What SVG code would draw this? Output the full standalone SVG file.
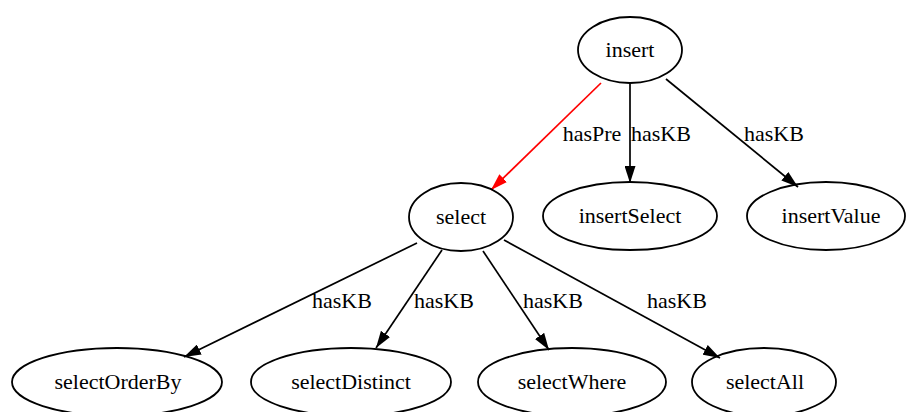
<svg xmlns="http://www.w3.org/2000/svg" width="906" height="412" viewBox="0 0 906 412">
<style>
.node ellipse{fill:none;stroke:#000;stroke-width:1.8}
.node text,.lbl{font-family:"Liberation Serif","Times New Roman",serif;font-size:22px;fill:#000;text-anchor:middle}
.edge{fill:none;stroke:#000;stroke-width:1.7}
.red{stroke:#ff0000}
</style>
<defs>
<marker id="ah" viewBox="0 0 17 11" refX="17" refY="5.5" markerWidth="17" markerHeight="11" markerUnits="userSpaceOnUse" orient="auto"><path d="M0,0 L17,5.5 L0,11 z" fill="#000"/></marker>
<marker id="ahr" viewBox="0 0 17 11" refX="17" refY="5.5" markerWidth="17" markerHeight="11" markerUnits="userSpaceOnUse" orient="auto"><path d="M0,0 L17,5.5 L0,11 z" fill="#ff0000"/></marker>
</defs>
<rect width="906" height="412" fill="#fff"/>
<g id="edges">
<path class="edge red" d="M601,83 L491,190" marker-end="url(#ahr)"/>
<path class="edge" d="M630,84 L630,183" marker-end="url(#ah)"/>
<path class="edge" d="M666,79 L798,187" marker-end="url(#ah)"/>
<path class="edge" d="M417,243 L184,357" marker-end="url(#ah)"/>
<path class="edge" d="M442,250 L376,348" marker-end="url(#ah)"/>
<path class="edge" d="M483,251 L549,350" marker-end="url(#ah)"/>
<path class="edge" d="M504,240 L720,358" marker-end="url(#ah)"/>
<text class="lbl" x="592" y="141">hasPre</text>
<text class="lbl" x="661" y="141">hasKB</text>
<text class="lbl" x="774" y="141">hasKB</text>
<text class="lbl" x="342" y="308">hasKB</text>
<text class="lbl" x="444" y="308">hasKB</text>
<text class="lbl" x="553" y="308">hasKB</text>
<text class="lbl" x="677" y="308">hasKB</text>
</g>
<g id="insert" class="node"><ellipse cx="630" cy="50" rx="52" ry="33"/><text x="630" y="57">insert</text></g>
<g id="select" class="node"><ellipse cx="461" cy="217" rx="52" ry="34"/><text x="461" y="224">select</text></g>
<g id="insertSelect" class="node"><ellipse cx="630" cy="216" rx="87" ry="34"/><text x="630" y="223">insertSelect</text></g>
<g id="insertValue" class="node"><ellipse cx="826" cy="216" rx="79" ry="34"/><text x="831" y="223">insertValue</text></g>
<g id="selectOrderBy" class="node"><ellipse cx="117" cy="382" rx="105" ry="34"/><text x="118" y="389">selectOrderBy</text></g>
<g id="selectDistinct" class="node"><ellipse cx="351" cy="382" rx="100" ry="34"/><text x="351" y="389">selectDistinct</text></g>
<g id="selectWhere" class="node"><ellipse cx="572" cy="382" rx="94" ry="34"/><text x="572" y="389">selectWhere</text></g>
<g id="selectAll" class="node"><ellipse cx="764" cy="382" rx="72" ry="34"/><text x="765" y="389">selectAll</text></g>
</svg>
